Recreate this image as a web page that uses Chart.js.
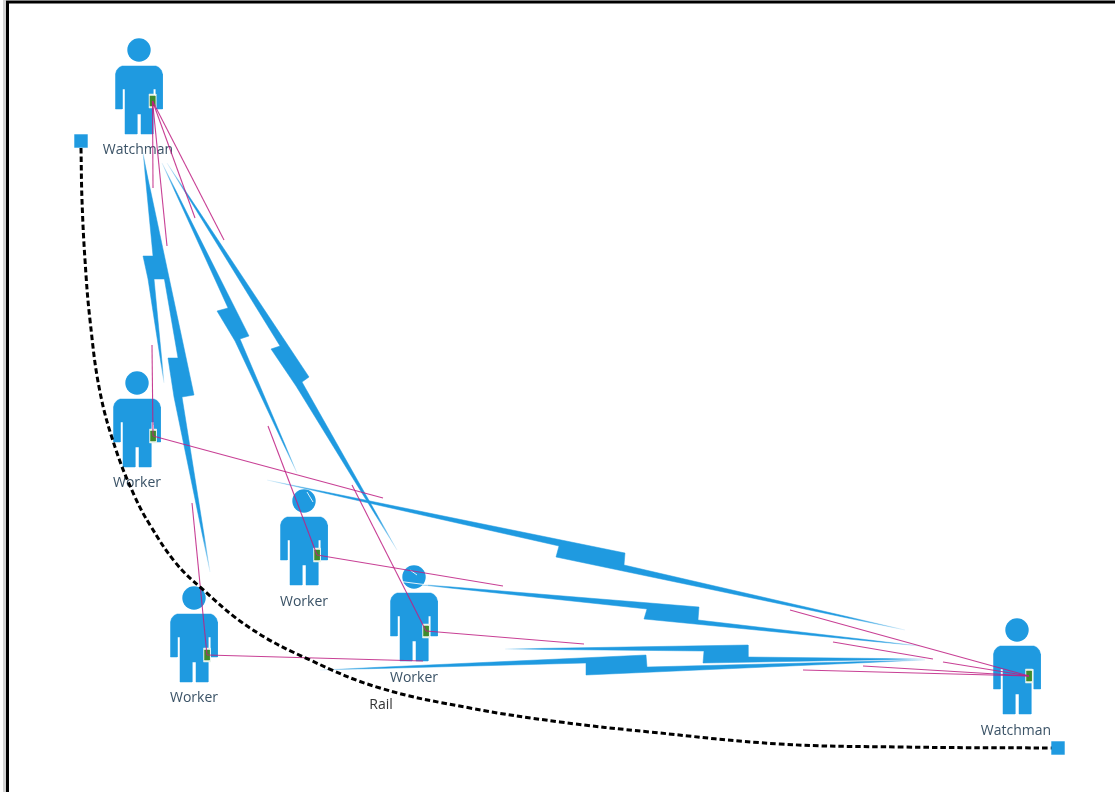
<!DOCTYPE html>
<html>
<head>
<meta charset="utf-8">
<title>Rail radio links</title>
<script src="https://cdn.jsdelivr.net/npm/chart.js@4"></script>
<style>
html, body { margin: 0; padding: 0; background: #fff; overflow: hidden; }
#box { position: absolute; left: 0; top: 0; width: 1115px; height: 792px; }
</style>
</head>
<body>
<div id="box"><canvas id="diagram"></canvas></div>
<script>
// everything is in picture coordinates, x 0..1115 and y 0..792 (y down)
var frame = [[7.5,792],[7.5,2],[1115,2]];
var frameShadow = [[4.5,792],[4.5,0]];

// head centres and radio positions for each person
var heads  = [[139,50],[137,383],[304,501],[414,577],[194,598],[1017,630]];
var radios = [[152.5,101],[153,436],[317,555],[426,631],[207,655],[1029,676]];

// outline of one person, relative to the head centre
var bodyOutline = [[-23.5,24],[-22.5,20.5],[-20,17.5],[-17,16],[17,16],[20,17.5],[22.5,20.5],[23.5,24],
  [23.5,59],[16.8,59],[16.8,39],[14,39],[14,84],[2,84],[2,64],[-2,64],[-2,84],[-14,84],
  [-14,39],[-16.8,39],[-16.8,59],[-23.5,59],[-23.5,24]];
var radioCase = [[-3.5,-7],[3.5,-7],[3.5,7],[-3.5,7],[-3.5,-7]];
var radioCell = [[-2.5,-5],[2.5,-5],[2.5,5],[-2.5,5],[-2.5,-5]];

// lightning bolts between the radios, point 0 and point 3 are the two tips
var bolts = [
  [[143,152],[165,279],[154,279],[164,383],[148,279],[143,256],[153,256]],
  [[143,155],[194,395],[182,397],[210,572],[174,397],[168,358],[178,358]],
  [[162,163],[249,336],[240,339],[297,473],[235,341],[217,311],[228,308]],
  [[167,163],[309,377],[302,382],[397,550],[296,386],[271,349],[280,346]],
  [[267,480],[625,553],[624,565],[905,630],[556,557],[559,546]],
  [[403,583],[699,607],[698,620],[920,646],[644,619],[647,609]],
  [[320,670],[646,655],[647,667],[925,660],[586,675],[586,663]],
  [[505,649],[748,645],[748,657],[925,659],[703,663],[704,651]]
];

// magenta signal lines, each one starts at a radio
var signals = [
  [[152.5,101],[153,188]],
  [[152.5,101],[167,246]],
  [[152.5,101],[195,218]],
  [[152.5,101],[224,240]],
  [[153,436],[152,345]],
  [[153,436],[383,498]],
  [[317,555],[268,426]],
  [[317,555],[503,586]],
  [[426,631],[352,485]],
  [[426,631],[584,644]],
  [[207,655],[192,503]],
  [[207,655],[423,661]],
  [[1029,676],[790,610]],
  [[1029,676],[943,662]],
  [[933,659],[833,642]],
  [[1029,676],[863,666]],
  [[1029,676],[803,670]]
];

// pale streaks where the bolts fade out
var streaks = [
  [[154.5,90],[154.5,95]],
  [[153,425],[153,429]],
  [[307,492],[313,502]],
  [[410,570],[417,575]],
  [[397,581],[428,585]],
  [[143,142],[145,155]]
];

var railPoints = [[81,148],[82,200],[85,260],[90,320],[100,392],[116,450],[135,497],[150,525],[175,562],[200,587],
  [250,628],[310,660],[380,688],[470,708],[560,722],[650,732],[780,744],[900,747],[1052,748]];
var railEnds = [[81,141],[1058,748]];

var labels = ['Watchman','Worker','Worker','Worker','Worker','Watchman','Rail'];
var labelPoints = [[138,150],[137,483],[304,602],[414,678],[194,698],[1016,731],[381,705]];

var BLUE = '#1f9ae0';

function pts(list) {
  return list.map(function(p) { return {x: p[0], y: p[1]}; });
}
function moved(shape, at) {
  return shape.map(function(p) { return {x: p[0] + at[0], y: p[1] + at[1]}; });
}
function shapeSet(data, color) {
  return {data: data, showLine: true, fill: 'shape', backgroundColor: color, borderColor: color,
    borderWidth: 0.5, pointRadius: 0, tension: 0};
}
// bolt colour running from pale at one tip to pale at the other
function boltPaint(bolt) {
  return function(ctx) {
    var chart = ctx.chart, sx = chart.scales.x, sy = chart.scales.y;
    if (!sx || !sy) return BLUE;
    var x0 = sx.getPixelForValue(bolt[0][0]), y0 = sy.getPixelForValue(bolt[0][1]);
    var x1 = sx.getPixelForValue(bolt[3][0]), y1 = sy.getPixelForValue(bolt[3][1]);
    // scales have no size yet on the first pass
    if (!isFinite(x0) || !isFinite(y0) || !isFinite(x1) || !isFinite(y1)) return BLUE;
    var g = chart.ctx.createLinearGradient(x0, y0, x1, y1);
    g.addColorStop(0, 'rgba(31,154,224,0.1)');
    g.addColorStop(0.09, BLUE);
    g.addColorStop(0.91, BLUE);
    g.addColorStop(1, 'rgba(31,154,224,0.1)');
    return g;
  };
}

// listed bottom to top, flipped before it goes to the chart
var datasets = [];

heads.forEach(function(h) { datasets.push(shapeSet(moved(bodyOutline, h), BLUE)); });
datasets.push({data: pts(heads), showLine: false, pointStyle: 'circle', pointRadius: 11.7,
  backgroundColor: BLUE, borderWidth: 0});

radios.forEach(function(r) {
  datasets.push(shapeSet(moved(radioCase, r), '#e8f3ea'));
  datasets.push(shapeSet(moved(radioCell, r), '#3f8a2e'));
});

bolts.forEach(function(b) {
  var closed = b.concat([b[0]]);
  var paint = boltPaint(b);
  datasets.push(shapeSet(pts(closed), BLUE));
  datasets[datasets.length - 1].backgroundColor = paint;
  datasets[datasets.length - 1].borderColor = paint;
});

streaks.forEach(function(s) {
  datasets.push({data: pts(s), showLine: true, borderColor: 'rgba(255,255,255,0.85)', borderWidth: 1, pointRadius: 0});
});

signals.forEach(function(s) {
  datasets.push({data: pts(s), showLine: true, borderColor: 'rgba(190,30,130,0.85)', borderWidth: 1.1, pointRadius: 0});
});

datasets.push({data: pts(railPoints), showLine: true, borderColor: '#000', borderWidth: 3,
  borderDash: [5.5, 3], pointRadius: 0, tension: 0.4});
datasets.push({data: pts(railEnds), showLine: false, pointStyle: 'rect', pointRadius: 9.5,
  backgroundColor: BLUE, borderWidth: 0});
datasets.push({data: pts(frameShadow), showLine: true, borderColor: '#d2d2d2', borderWidth: 3, pointRadius: 0});
datasets.push({data: pts(frame), showLine: true, borderColor: '#000', borderWidth: 3, pointRadius: 0});

// chart.js paints dataset 0 last
datasets.reverse();

// names go under the marks, the rail and the bolts run across some of them
var namePlugin = {
  id: 'names',
  beforeDatasetsDraw: function(chart) {
    var c = chart.ctx;
    c.save();
    c.font = '14px "Open Sans"';
    c.textAlign = 'center';
    c.textBaseline = 'middle';
    labels.forEach(function(t, i) {
      c.fillStyle = t === 'Rail' ? '#333' : '#3a5266';
      c.fillText(t, chart.scales.x.getPixelForValue(labelPoints[i][0]), chart.scales.y.getPixelForValue(labelPoints[i][1]));
    });
    c.restore();
  }
};

new Chart(document.getElementById('diagram'), {
  type: 'scatter',
  data: {datasets: datasets},
  plugins: [namePlugin],
  options: {
    responsive: true,
    maintainAspectRatio: false,
    animation: false,
    layout: {padding: 0, autoPadding: false},
    clip: false,
    plugins: {legend: {display: false}, tooltip: {enabled: false}},
    scales: {
      x: {type: 'linear', min: 0, max: 1115, display: false},
      y: {type: 'linear', min: 0, max: 792, reverse: true, display: false}
    }
  }
});
</script>
</body>
</html>
